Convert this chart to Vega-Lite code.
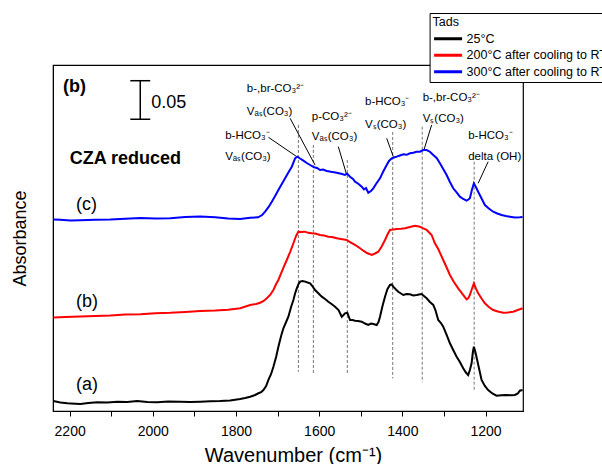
{
  "$schema": "https://vega.github.io/schema/vega-lite/v6.json",
  "width": 470,
  "height": 346,
  "autosize": {"type": "none"},
  "padding": {"left": 53, "top": 65, "right": 79, "bottom": 53},
  "background": "white",
  "config": {
    "font": "Liberation Sans",
    "view": {"stroke": "black", "strokeWidth": 1.2},
    "axis": {"grid": false}
  },
  "datasets": {
    "t25": [
      {"wavenumber":2239.1,"absorbance":0.0129},{"wavenumber":2222.3,"absorbance":0.0110},{"wavenumber":2205.5,"absorbance":0.0099},{"wavenumber":2186.3,"absorbance":0.0093},{"wavenumber":2174.3,"absorbance":0.0090},{"wavenumber":2155.1,"absorbance":0.0103},{"wavenumber":2133.5,"absorbance":0.0112},{"wavenumber":2109.4,"absorbance":0.0109},{"wavenumber":2085.4,"absorbance":0.0120},{"wavenumber":2061.4,"absorbance":0.0116},{"wavenumber":2037.4,"absorbance":0.0129},{"wavenumber":2013.4,"absorbance":0.0116},{"wavenumber":1989.4,"absorbance":0.0112},{"wavenumber":1962.9,"absorbance":0.0123},{"wavenumber":1934.1,"absorbance":0.0120},{"wavenumber":1910.1,"absorbance":0.0116},{"wavenumber":1886.1,"absorbance":0.0120},{"wavenumber":1862.1,"absorbance":0.0125},{"wavenumber":1838.1,"absorbance":0.0129},{"wavenumber":1814.1,"absorbance":0.0136},{"wavenumber":1790.0,"absorbance":0.0155},{"wavenumber":1778.0,"absorbance":0.0168},{"wavenumber":1766.0,"absorbance":0.0185},{"wavenumber":1754.0,"absorbance":0.0207},{"wavenumber":1746.1,"absorbance":0.0229},{"wavenumber":1739.6,"absorbance":0.0245},{"wavenumber":1734.1,"absorbance":0.0271},{"wavenumber":1727.6,"absorbance":0.0323},{"wavenumber":1722.1,"absorbance":0.0401},{"wavenumber":1715.6,"absorbance":0.0478},{"wavenumber":1710.1,"absorbance":0.0572},{"wavenumber":1703.6,"absorbance":0.0698},{"wavenumber":1698.1,"absorbance":0.0831},{"wavenumber":1691.6,"absorbance":0.0969},{"wavenumber":1686.1,"absorbance":0.1068},{"wavenumber":1679.6,"absorbance":0.1150},{"wavenumber":1674.1,"absorbance":0.1218},{"wavenumber":1667.6,"absorbance":0.1344},{"wavenumber":1662.0,"absorbance":0.1434},{"wavenumber":1658.0,"absorbance":0.1518},{"wavenumber":1653.9,"absorbance":0.1585},{"wavenumber":1649.6,"absorbance":0.1641},{"wavenumber":1646.0,"absorbance":0.1671},{"wavenumber":1640.0,"absorbance":0.1680},{"wavenumber":1633.9,"absorbance":0.1671},{"wavenumber":1627.9,"absorbance":0.1660},{"wavenumber":1621.9,"absorbance":0.1650},{"wavenumber":1615.9,"absorbance":0.1609},{"wavenumber":1609.9,"absorbance":0.1563},{"wavenumber":1602.7,"absorbance":0.1525},{"wavenumber":1593.8,"absorbance":0.1477},{"wavenumber":1585.9,"absorbance":0.1447},{"wavenumber":1578.0,"absorbance":0.1412},{"wavenumber":1570.3,"absorbance":0.1382},{"wavenumber":1561.9,"absorbance":0.1348},{"wavenumber":1553.5,"absorbance":0.1305},{"wavenumber":1545.8,"absorbance":0.1218},{"wavenumber":1541.5,"absorbance":0.1240},{"wavenumber":1537.9,"absorbance":0.1262},{"wavenumber":1532.4,"absorbance":0.1270},{"wavenumber":1529.5,"absorbance":0.1227},{"wavenumber":1525.9,"absorbance":0.1176},{"wavenumber":1519.9,"absorbance":0.1176},{"wavenumber":1513.9,"absorbance":0.1167},{"wavenumber":1506.7,"absorbance":0.1163},{"wavenumber":1497.8,"absorbance":0.1154},{"wavenumber":1489.9,"absorbance":0.1130},{"wavenumber":1481.9,"absorbance":0.1111},{"wavenumber":1475.4,"absorbance":0.1130},{"wavenumber":1469.9,"absorbance":0.1124},{"wavenumber":1461.8,"absorbance":0.1111},{"wavenumber":1457.4,"absorbance":0.1150},{"wavenumber":1453.8,"absorbance":0.1218},{"wavenumber":1447.8,"absorbance":0.1357},{"wavenumber":1441.8,"absorbance":0.1477},{"wavenumber":1435.8,"absorbance":0.1576},{"wavenumber":1429.8,"absorbance":0.1628},{"wavenumber":1425.7,"absorbance":0.1634},{"wavenumber":1421.9,"absorbance":0.1606},{"wavenumber":1415.4,"absorbance":0.1570},{"wavenumber":1409.9,"absorbance":0.1541},{"wavenumber":1403.4,"absorbance":0.1518},{"wavenumber":1397.9,"absorbance":0.1499},{"wavenumber":1389.7,"absorbance":0.1512},{"wavenumber":1381.8,"absorbance":0.1508},{"wavenumber":1373.9,"absorbance":0.1492},{"wavenumber":1365.7,"absorbance":0.1499},{"wavenumber":1360.2,"absorbance":0.1505},{"wavenumber":1353.7,"absorbance":0.1512},{"wavenumber":1348.2,"absorbance":0.1486},{"wavenumber":1341.7,"absorbance":0.1456},{"wavenumber":1333.8,"absorbance":0.1408},{"wavenumber":1325.8,"absorbance":0.1370},{"wavenumber":1320.6,"absorbance":0.1305},{"wavenumber":1313.8,"absorbance":0.1176},{"wavenumber":1307.3,"absorbance":0.1137},{"wavenumber":1301.8,"absorbance":0.1089},{"wavenumber":1293.6,"absorbance":0.0982},{"wavenumber":1285.7,"absorbance":0.0875},{"wavenumber":1277.8,"absorbance":0.0788},{"wavenumber":1269.6,"absorbance":0.0702},{"wavenumber":1261.7,"absorbance":0.0633},{"wavenumber":1253.8,"absorbance":0.0552},{"wavenumber":1247.3,"absorbance":0.0497},{"wavenumber":1241.8,"absorbance":0.0465},{"wavenumber":1237.7,"absorbance":0.0530},{"wavenumber":1233.6,"absorbance":0.0616},{"wavenumber":1230.5,"absorbance":0.0762},{"wavenumber":1228.1,"absorbance":0.0831},{"wavenumber":1224.5,"absorbance":0.0762},{"wavenumber":1220.2,"absorbance":0.0659},{"wavenumber":1214.9,"absorbance":0.0530},{"wavenumber":1209.6,"absorbance":0.0401},{"wavenumber":1201.7,"absorbance":0.0323},{"wavenumber":1193.8,"absorbance":0.0271},{"wavenumber":1183.7,"absorbance":0.0226},{"wavenumber":1173.6,"absorbance":0.0198},{"wavenumber":1162.1,"absorbance":0.0204},{"wavenumber":1149.6,"absorbance":0.0207},{"wavenumber":1139.2,"absorbance":0.0203},{"wavenumber":1129.6,"absorbance":0.0207},{"wavenumber":1122.4,"absorbance":0.0226},{"wavenumber":1117.6,"absorbance":0.0262},{"wavenumber":1111.1,"absorbance":0.0271}
    ],
    "t200": [
      {"wavenumber":2239.1,"absorbance":0.1208},{"wavenumber":2210.3,"absorbance":0.1214},{"wavenumber":2174.3,"absorbance":0.1221},{"wavenumber":2138.3,"absorbance":0.1227},{"wavenumber":2102.2,"absorbance":0.1234},{"wavenumber":2066.2,"absorbance":0.1247},{"wavenumber":2030.2,"absorbance":0.1249},{"wavenumber":1994.2,"absorbance":0.1264},{"wavenumber":1958.1,"absorbance":0.1269},{"wavenumber":1922.1,"absorbance":0.1279},{"wavenumber":1886.1,"absorbance":0.1292},{"wavenumber":1850.1,"absorbance":0.1298},{"wavenumber":1818.9,"absorbance":0.1307},{"wavenumber":1790.0,"absorbance":0.1327},{"wavenumber":1766.0,"absorbance":0.1370},{"wavenumber":1751.6,"absorbance":0.1382},{"wavenumber":1742.0,"absorbance":0.1399},{"wavenumber":1733.6,"absorbance":0.1421},{"wavenumber":1725.9,"absorbance":0.1456},{"wavenumber":1718.0,"absorbance":0.1499},{"wavenumber":1710.1,"absorbance":0.1563},{"wavenumber":1703.6,"absorbance":0.1641},{"wavenumber":1698.1,"absorbance":0.1693},{"wavenumber":1689.9,"absorbance":0.1800},{"wavenumber":1684.4,"absorbance":0.1873},{"wavenumber":1677.9,"absorbance":0.1951},{"wavenumber":1670.0,"absorbance":0.2054},{"wavenumber":1662.0,"absorbance":0.2167},{"wavenumber":1655.6,"absorbance":0.2261},{"wavenumber":1650.0,"absorbance":0.2317},{"wavenumber":1643.6,"absorbance":0.2313},{"wavenumber":1633.9,"absorbance":0.2317},{"wavenumber":1626.7,"absorbance":0.2302},{"wavenumber":1617.9,"absorbance":0.2296},{"wavenumber":1609.9,"absorbance":0.2293},{"wavenumber":1597.9,"absorbance":0.2274},{"wavenumber":1588.3,"absorbance":0.2267},{"wavenumber":1578.0,"absorbance":0.2252},{"wavenumber":1569.1,"absorbance":0.2248},{"wavenumber":1557.8,"absorbance":0.2231},{"wavenumber":1547.5,"absorbance":0.2222},{"wavenumber":1533.8,"absorbance":0.2209},{"wavenumber":1525.9,"absorbance":0.2183},{"wavenumber":1513.9,"absorbance":0.2145},{"wavenumber":1504.3,"absorbance":0.2112},{"wavenumber":1493.9,"absorbance":0.2071},{"wavenumber":1485.1,"absorbance":0.2041},{"wavenumber":1473.8,"absorbance":0.2016},{"wavenumber":1465.8,"absorbance":0.2035},{"wavenumber":1457.9,"absorbance":0.2058},{"wavenumber":1449.8,"absorbance":0.2125},{"wavenumber":1441.8,"absorbance":0.2209},{"wavenumber":1435.8,"absorbance":0.2280},{"wavenumber":1429.8,"absorbance":0.2339},{"wavenumber":1421.9,"absorbance":0.2345},{"wavenumber":1413.7,"absorbance":0.2351},{"wavenumber":1403.4,"absorbance":0.2354},{"wavenumber":1393.8,"absorbance":0.2360},{"wavenumber":1381.8,"absorbance":0.2377},{"wavenumber":1369.8,"absorbance":0.2394},{"wavenumber":1357.8,"absorbance":0.2381},{"wavenumber":1349.8,"absorbance":0.2360},{"wavenumber":1341.7,"absorbance":0.2339},{"wavenumber":1329.7,"absorbance":0.2274},{"wavenumber":1321.8,"absorbance":0.2167},{"wavenumber":1313.8,"absorbance":0.2093},{"wavenumber":1301.8,"absorbance":0.1951},{"wavenumber":1293.6,"absorbance":0.1854},{"wavenumber":1285.7,"absorbance":0.1757},{"wavenumber":1276.1,"absorbance":0.1667},{"wavenumber":1265.8,"absorbance":0.1585},{"wavenumber":1255.7,"absorbance":0.1512},{"wavenumber":1245.6,"absorbance":0.1443},{"wavenumber":1241.3,"absorbance":0.1460},{"wavenumber":1237.7,"absorbance":0.1499},{"wavenumber":1232.9,"absorbance":0.1576},{"wavenumber":1228.1,"absorbance":0.1650},{"wavenumber":1223.3,"absorbance":0.1583},{"wavenumber":1217.8,"absorbance":0.1521},{"wavenumber":1209.6,"absorbance":0.1453},{"wavenumber":1201.7,"absorbance":0.1391},{"wavenumber":1192.1,"absorbance":0.1344},{"wavenumber":1181.7,"absorbance":0.1305},{"wavenumber":1170.5,"absorbance":0.1286},{"wavenumber":1157.7,"absorbance":0.1270},{"wavenumber":1146.4,"absorbance":0.1273},{"wavenumber":1133.7,"absorbance":0.1283},{"wavenumber":1122.4,"absorbance":0.1305},{"wavenumber":1111.1,"absorbance":0.1327}
    ],
    "t300": [
      {"wavenumber":2239.1,"absorbance":0.2474},{"wavenumber":2222.3,"absorbance":0.2470},{"wavenumber":2198.3,"absorbance":0.2461},{"wavenumber":2174.3,"absorbance":0.2464},{"wavenumber":2138.3,"absorbance":0.2470},{"wavenumber":2102.2,"absorbance":0.2473},{"wavenumber":2066.2,"absorbance":0.2483},{"wavenumber":2030.2,"absorbance":0.2494},{"wavenumber":1994.2,"absorbance":0.2488},{"wavenumber":1958.1,"absorbance":0.2491},{"wavenumber":1922.1,"absorbance":0.2506},{"wavenumber":1886.1,"absorbance":0.2514},{"wavenumber":1850.1,"absorbance":0.2504},{"wavenumber":1818.9,"absorbance":0.2487},{"wavenumber":1790.0,"absorbance":0.2481},{"wavenumber":1766.0,"absorbance":0.2496},{"wavenumber":1746.8,"absorbance":0.2503},{"wavenumber":1737.2,"absorbance":0.2532},{"wavenumber":1730.0,"absorbance":0.2575},{"wavenumber":1721.6,"absorbance":0.2636},{"wavenumber":1713.9,"absorbance":0.2704},{"wavenumber":1706.0,"absorbance":0.2778},{"wavenumber":1698.1,"absorbance":0.2855},{"wavenumber":1689.9,"absorbance":0.2933},{"wavenumber":1682.0,"absorbance":0.3006},{"wavenumber":1674.1,"absorbance":0.3081},{"wavenumber":1665.9,"absorbance":0.3156},{"wavenumber":1658.0,"absorbance":0.3265},{"wavenumber":1652.4,"absorbance":0.3286},{"wavenumber":1646.0,"absorbance":0.3262},{"wavenumber":1638.0,"absorbance":0.3234},{"wavenumber":1629.9,"absorbance":0.3204},{"wavenumber":1621.9,"absorbance":0.3178},{"wavenumber":1612.3,"absorbance":0.3149},{"wavenumber":1605.1,"absorbance":0.3140},{"wavenumber":1597.9,"absorbance":0.3114},{"wavenumber":1590.7,"absorbance":0.3120},{"wavenumber":1581.8,"absorbance":0.3101},{"wavenumber":1571.5,"absorbance":0.3090},{"wavenumber":1557.8,"absorbance":0.3079},{"wavenumber":1547.5,"absorbance":0.3065},{"wavenumber":1537.9,"absorbance":0.3049},{"wavenumber":1533.1,"absorbance":0.3068},{"wavenumber":1525.9,"absorbance":0.3027},{"wavenumber":1518.7,"absorbance":0.2997},{"wavenumber":1513.9,"absorbance":0.2963},{"wavenumber":1506.7,"absorbance":0.2939},{"wavenumber":1497.8,"absorbance":0.2898},{"wavenumber":1492.3,"absorbance":0.2862},{"wavenumber":1487.5,"absorbance":0.2881},{"wavenumber":1481.9,"absorbance":0.2820},{"wavenumber":1475.4,"absorbance":0.2842},{"wavenumber":1469.9,"absorbance":0.2877},{"wavenumber":1463.4,"absorbance":0.2933},{"wavenumber":1453.8,"absorbance":0.3006},{"wavenumber":1446.6,"absorbance":0.3088},{"wavenumber":1437.7,"absorbance":0.3178},{"wavenumber":1432.2,"absorbance":0.3230},{"wavenumber":1425.7,"absorbance":0.3265},{"wavenumber":1420.2,"absorbance":0.3275},{"wavenumber":1413.7,"absorbance":0.3286},{"wavenumber":1405.8,"absorbance":0.3301},{"wavenumber":1397.9,"absorbance":0.3317},{"wavenumber":1389.7,"absorbance":0.3310},{"wavenumber":1381.8,"absorbance":0.3329},{"wavenumber":1373.9,"absorbance":0.3336},{"wavenumber":1365.7,"absorbance":0.3350},{"wavenumber":1357.8,"absorbance":0.3350},{"wavenumber":1349.8,"absorbance":0.3372},{"wavenumber":1341.7,"absorbance":0.3372},{"wavenumber":1333.8,"absorbance":0.3350},{"wavenumber":1325.8,"absorbance":0.3307},{"wavenumber":1317.7,"absorbance":0.3269},{"wavenumber":1309.7,"absorbance":0.3200},{"wavenumber":1301.8,"absorbance":0.3127},{"wavenumber":1293.6,"absorbance":0.3049},{"wavenumber":1285.7,"absorbance":0.2959},{"wavenumber":1277.8,"absorbance":0.2877},{"wavenumber":1269.6,"absorbance":0.2823},{"wavenumber":1261.7,"absorbance":0.2769},{"wavenumber":1253.8,"absorbance":0.2739},{"wavenumber":1245.6,"absorbance":0.2717},{"wavenumber":1241.3,"absorbance":0.2733},{"wavenumber":1237.7,"absorbance":0.2748},{"wavenumber":1232.9,"absorbance":0.2855},{"wavenumber":1228.1,"absorbance":0.2942},{"wavenumber":1223.3,"absorbance":0.2894},{"wavenumber":1217.8,"absorbance":0.2833},{"wavenumber":1209.6,"absorbance":0.2745},{"wavenumber":1201.7,"absorbance":0.2661},{"wavenumber":1192.1,"absorbance":0.2616},{"wavenumber":1181.7,"absorbance":0.2575},{"wavenumber":1171.7,"absorbance":0.2552},{"wavenumber":1161.6,"absorbance":0.2532},{"wavenumber":1151.2,"absorbance":0.2519},{"wavenumber":1141.6,"absorbance":0.2510},{"wavenumber":1129.6,"absorbance":0.2500},{"wavenumber":1117.6,"absorbance":0.2503},{"wavenumber":1111.1,"absorbance":0.2506}
    ],
    "guides": [
      {"wavenumber":1650.0,"absorbance":0.3695,"absorbance2":0.0508},
      {"wavenumber":1614.0,"absorbance":0.3437,"absorbance2":0.0465},
      {"wavenumber":1532.4,"absorbance":0.3243,"absorbance2":0.0487},
      {"wavenumber":1423.3,"absorbance":0.3605,"absorbance2":0.0422},
      {"wavenumber":1352.3,"absorbance":0.3673,"absorbance2":0.0371},
      {"wavenumber":1227.4,"absorbance":0.3221,"absorbance2":0.0271}
    ],
    "leaders": [
      {"wavenumber":1722.1,"absorbance":0.3536,"wavenumber2":1653.9,"absorbance2":0.3286},
      {"wavenumber":1670.0,"absorbance":0.3782,"wavenumber2":1609.9,"absorbance2":0.3178},
      {"wavenumber":1554.0,"absorbance":0.3415,"wavenumber2":1533.8,"absorbance2":0.3049},
      {"wavenumber":1437.7,"absorbance":0.3523,"wavenumber2":1421.9,"absorbance2":0.3286},
      {"wavenumber":1329.7,"absorbance":0.3695,"wavenumber2":1348.2,"absorbance2":0.3372},
      {"wavenumber":1193.8,"absorbance":0.3221,"wavenumber2":1217.8,"absorbance2":0.2942}
    ],
    "assignments": [
      {"wavenumber":1774.0,"absorbance":0.4156,"label":"b-,br-CO₃²⁻"},
      {"wavenumber":1774.0,"absorbance":0.3867,"label":"Vₐₛ(CO₃)"},
      {"wavenumber":1826.1,"absorbance":0.3553,"label":"b-HCO₃⁻"},
      {"wavenumber":1826.1,"absorbance":0.3278,"label":"Vₐₛ(CO₃)"},
      {"wavenumber":1617.9,"absorbance":0.3802,"label":"p-CO₃²⁻"},
      {"wavenumber":1617.9,"absorbance":0.3536,"label":"Vₐₛ(CO₃)"},
      {"wavenumber":1489.9,"absorbance":0.3988,"label":"b-HCO₃⁻"},
      {"wavenumber":1489.9,"absorbance":0.3695,"label":"Vₛ(CO₃)"},
      {"wavenumber":1351.3,"absorbance":0.4048,"label":"b-,br-CO₃²⁻"},
      {"wavenumber":1351.3,"absorbance":0.3773,"label":"Vₛ(CO₃)"},
      {"wavenumber":1241.8,"absorbance":0.3557,"label":"b-HCO₃⁻"},
      {"wavenumber":1241.8,"absorbance":0.3278,"label":"delta (OH)"}
    ],
    "boldLabels": [
      {"wavenumber":2215.8,"absorbance":0.4182,"label":"(b)"},
      {"wavenumber":2200.0,"absorbance":0.3252,"label":"CZA reduced"}
    ],
    "plainLabels": [
      {"wavenumber":2003.8,"absorbance":0.3975,"label":"0.05"},
      {"wavenumber":2184.6,"absorbance":0.2661,"label":"(c)"},
      {"wavenumber":2184.6,"absorbance":0.1412,"label":"(b)"},
      {"wavenumber":2184.6,"absorbance":0.0336,"label":"(a)"}
    ],
    "scaleBar": [
      {"wavenumber":2030.2,"absorbance":0.4267,"absorbance2":0.3769}
    ],
    "scaleBarCaps": [
      {"wavenumber":2054.2,"wavenumber2":2006.2,"absorbance":0.4267},
      {"wavenumber":2054.2,"wavenumber2":2006.2,"absorbance":0.3769}
    ]
  },
  "encoding": {
    "x": {
      "field": "wavenumber",
      "type": "quantitative",
      "scale": {"domain": [1110, 2240], "reverse": true, "nice": false, "zero": false},
      "axis": {
        "title": "Wavenumber (cm⁻¹)",
        "values": [2200, 2100, 2000, 1900, 1800, 1700, 1600, 1500, 1400, 1300, 1200],
        "format": "d",
        "labelExpr": "datum.value % 200 === 0 ? datum.label : ''",
        "labelFontSize": 14,
        "labelColor": "black",
        "labelPadding": 8,
        "labelFlush": false,
        "tickColor": "black",
        "tickSize": 5,
        "domainColor": "black",
        "titleFontSize": 20,
        "titleFontWeight": "normal",
        "titleColor": "black",
        "titleX": 240,
        "titleY": 50,
        "titleBaseline": "alphabetic",
        "titleAlign": "center"
      }
    },
    "y": {
      "field": "absorbance",
      "type": "quantitative",
      "scale": {"domain": [0, 0.447], "nice": false, "zero": false},
      "axis": {
        "title": "Absorbance",
        "labels": false,
        "ticks": false,
        "domainColor": "black",
        "titleFontSize": 18,
        "titleFontWeight": "normal",
        "titleColor": "black",
        "titleAngle": 270,
        "titleX": -33,
        "titleY": 173,
        "titleAlign": "center",
        "titleBaseline": "middle"
      }
    }
  },
  "layer": [
    {
      "data": {"name": "guides"},
      "mark": {"type": "rule", "color": "#666666", "strokeWidth": 0.9, "strokeDash": [3, 2]},
      "encoding": {"y2": {"field": "absorbance2"}}
    },
    {
      "data": {"name": "leaders"},
      "mark": {"type": "rule", "color": "black", "strokeWidth": 1},
      "encoding": {"x2": {"field": "wavenumber2"}, "y2": {"field": "absorbance2"}}
    },
    {
      "data": {"name": "t25"},
      "mark": {"type": "line", "strokeWidth": 2},
      "encoding": {
        "color": {
          "datum": "25°C",
          "type": "nominal",
          "scale": {"domain": ["25°C", "200°C after cooling to RT", "300°C after cooling to RT"], "range": ["#000000", "#ff0000", "#0000ff"]},
          "legend": {
            "title": "Tads",
            "orient": "none",
            "legendX": 376.6,
            "legendY": -52,
            "direction": "vertical",
            "padding": 3,
            "strokeColor": "black",
            "fillColor": "white",
            "titleFontSize": 12.5,
            "titleFontWeight": "normal",
            "titleColor": "black",
            "titlePadding": 3.5,
            "labelFontSize": 12.5,
            "labelColor": "black",
            "labelLimit": 400,
            "labelOffset": 3,
            "symbolType": "stroke",
            "symbolSize": 784,
            "symbolStrokeWidth": 3,
            "clipHeight": 13.5,
            "rowPadding": 2.5
          }
        }
      }
    },
    {
      "data": {"name": "t200"},
      "mark": {"type": "line", "strokeWidth": 2},
      "encoding": {"color": {"datum": "200°C after cooling to RT", "type": "nominal"}}
    },
    {
      "data": {"name": "t300"},
      "mark": {"type": "line", "strokeWidth": 2},
      "encoding": {"color": {"datum": "300°C after cooling to RT", "type": "nominal"}}
    },
    {
      "data": {"name": "scaleBar"},
      "mark": {"type": "rule", "color": "black", "strokeWidth": 1.5},
      "encoding": {"y2": {"field": "absorbance2"}}
    },
    {
      "data": {"name": "scaleBarCaps"},
      "mark": {"type": "rule", "color": "black", "strokeWidth": 1.5},
      "encoding": {"x2": {"field": "wavenumber2"}}
    },
    {
      "data": {"name": "assignments"},
      "mark": {"type": "text", "align": "left", "baseline": "middle", "fontSize": 11.5, "color": "black"},
      "encoding": {"text": {"field": "label"}}
    },
    {
      "data": {"name": "boldLabels"},
      "mark": {"type": "text", "align": "left", "baseline": "middle", "fontSize": 18, "fontWeight": "bold", "color": "black"},
      "encoding": {"text": {"field": "label"}}
    },
    {
      "data": {"name": "plainLabels"},
      "mark": {"type": "text", "align": "left", "baseline": "middle", "fontSize": 18, "color": "black"},
      "encoding": {"text": {"field": "label"}}
    }
  ]
}
